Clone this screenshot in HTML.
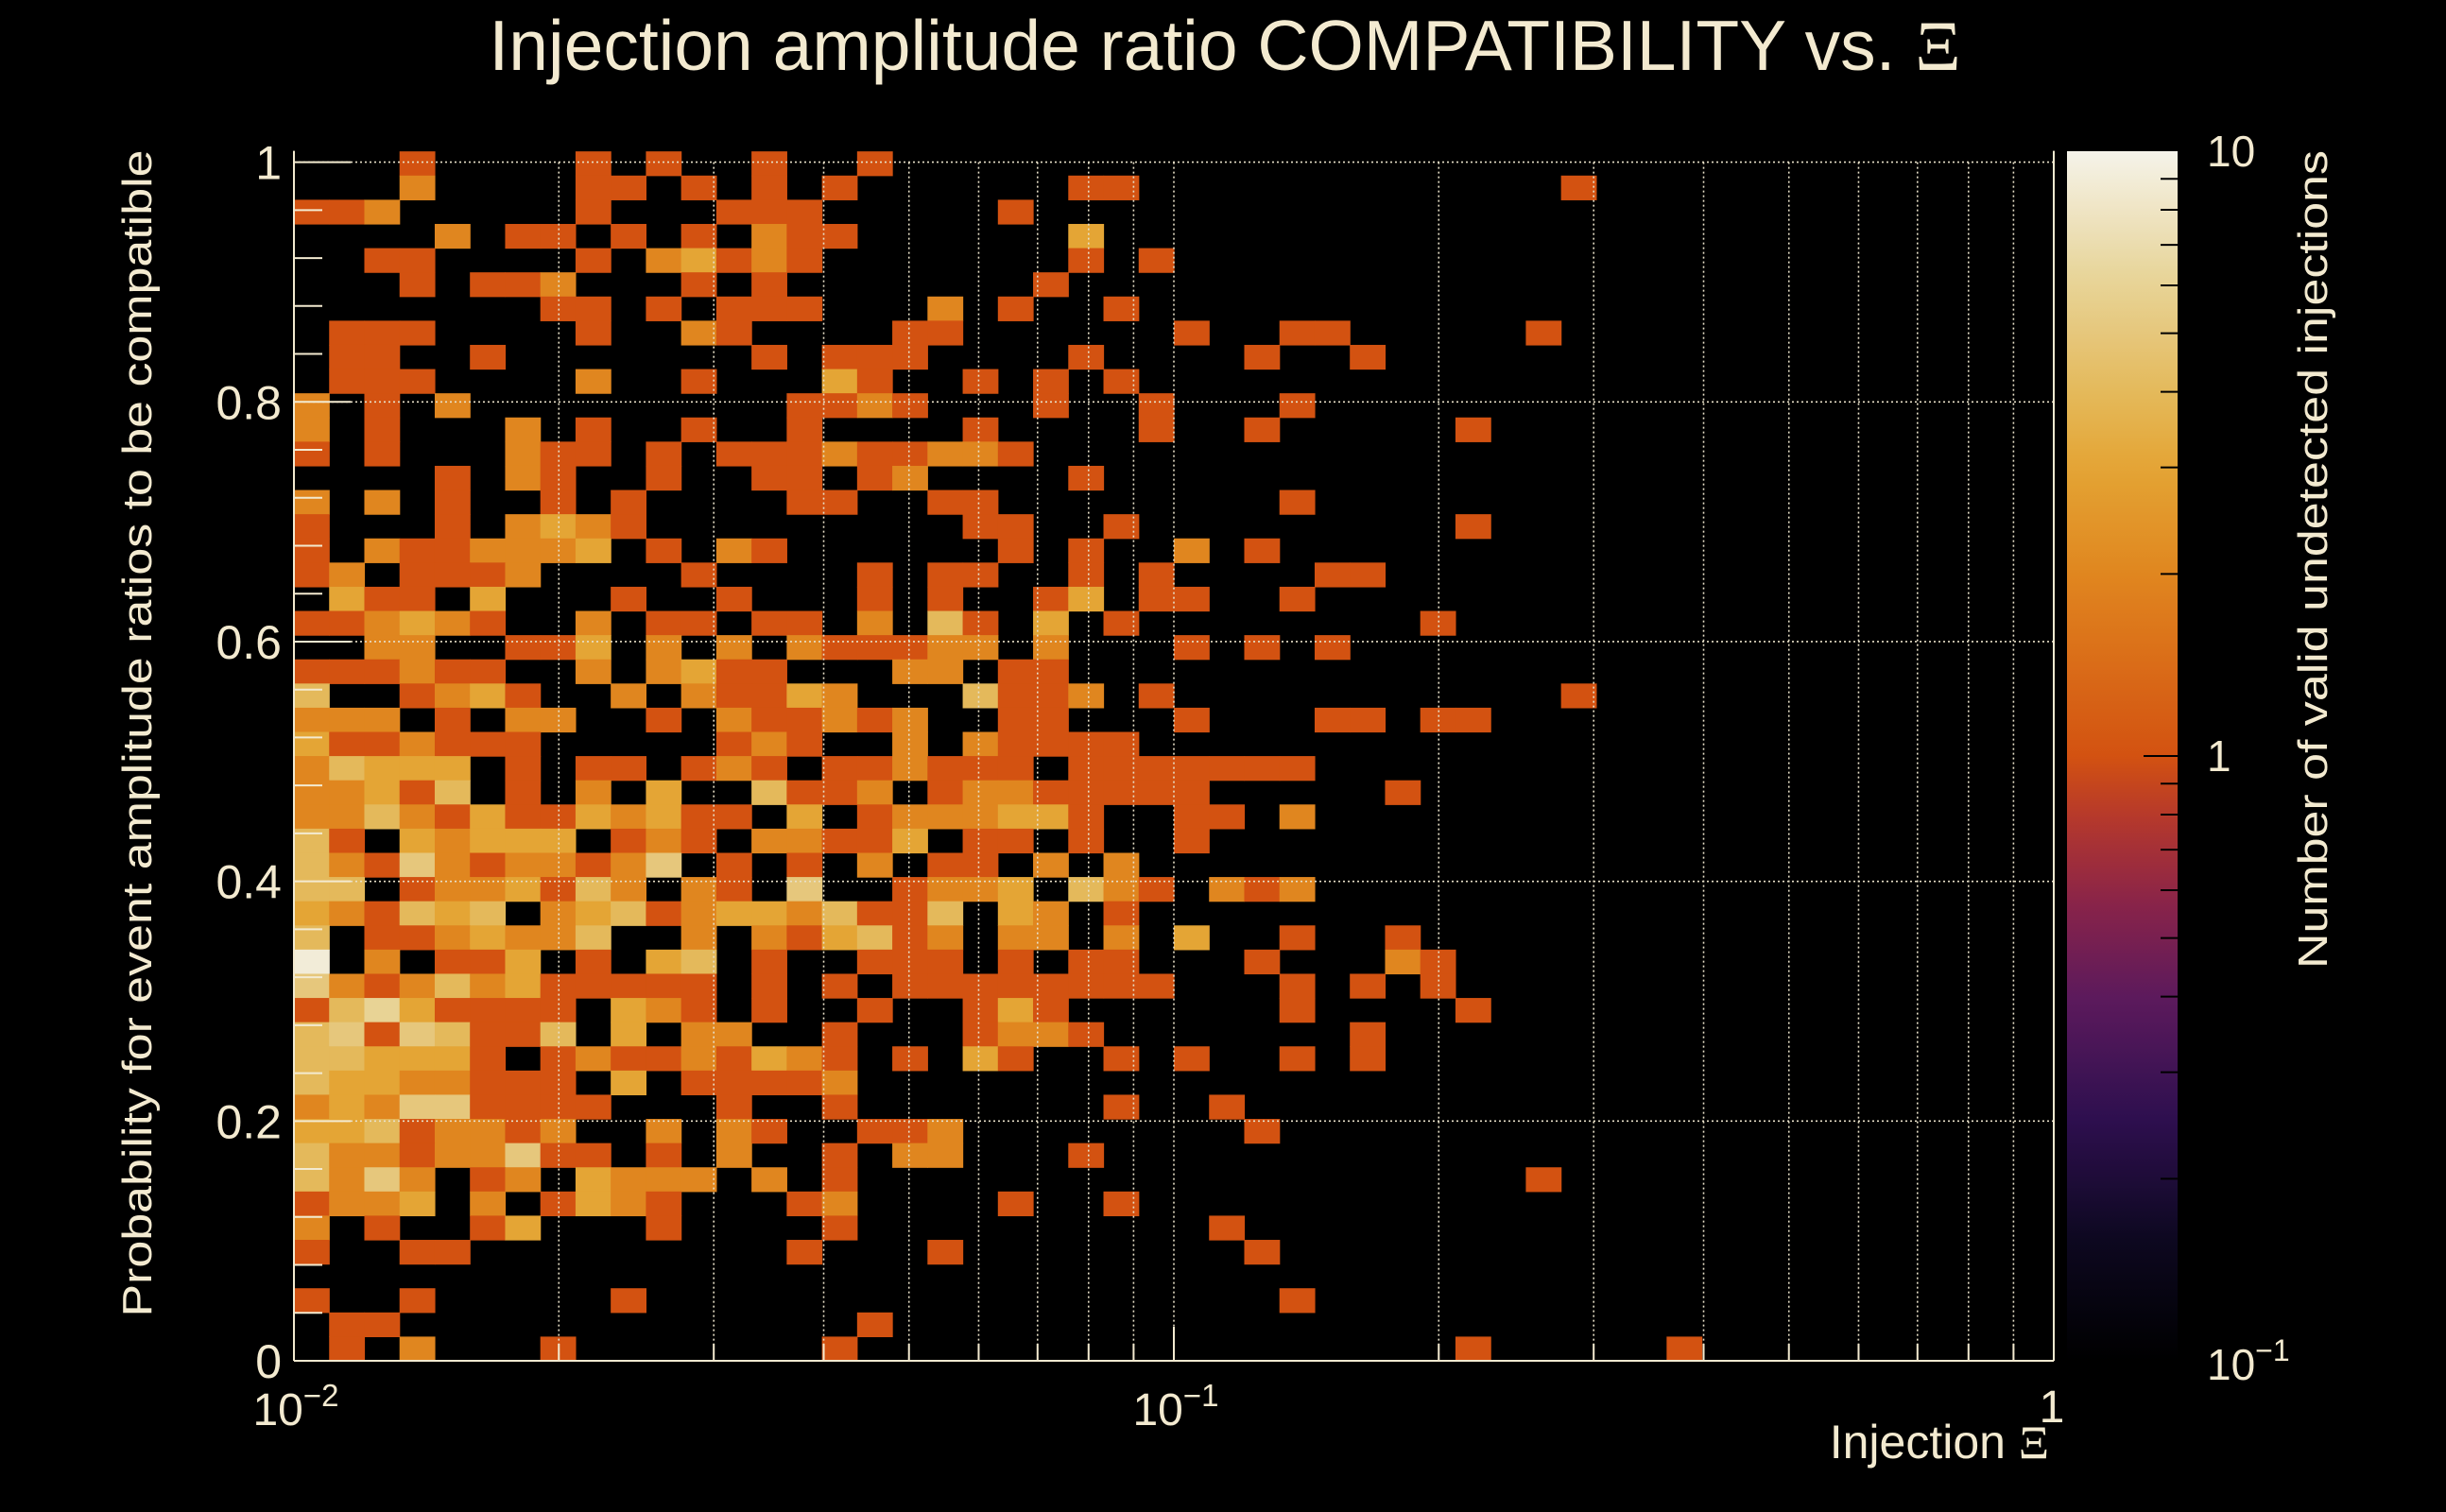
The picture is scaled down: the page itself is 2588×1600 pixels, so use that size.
<!DOCTYPE html>
<html><head><meta charset="utf-8"><style>
html,body{margin:0;padding:0;background:#000;}
svg{display:block;}
text{font-family:"Liberation Sans",sans-serif;fill:#f3ead0;}
</style></head>
<body>
<svg id="chart" width="2588" height="1600" viewBox="0 0 2588 1600" xmlns="http://www.w3.org/2000/svg">
<rect x="0" y="0" width="2588" height="1600" fill="#000"/>
<text x="1296" y="74" font-size="75" text-anchor="middle">Injection amplitude ratio COMPATIBILITY vs.  <tspan font-family="Liberation Serif, serif">Ξ</tspan></text>
<g id="cells"></g>
<g id="grid"></g>
<g id="axes"></g>
<defs><linearGradient id="cbgrad" x1="0" y1="1" x2="0" y2="0"></linearGradient></defs>
<g id="cbar"></g>
<text transform="translate(160,776) rotate(-90)" font-size="44" text-anchor="middle" textLength="1235" lengthAdjust="spacingAndGlyphs">Probability for event amplitude ratios to be compatible</text>
<text transform="translate(2462,592) rotate(-90)" font-size="44" text-anchor="middle" textLength="866" lengthAdjust="spacingAndGlyphs">Number of valid undetected injections</text>
<text x="2168" y="1543" font-size="50" text-anchor="end">Injection <tspan font-family="Liberation Serif, serif">Ξ</tspan></text>
</svg>
<script>
// Heatmap counts: rows from top (y bin 49) to bottom (y bin 0), 50 log-x columns each
const counts = [
"00010000101001001000000000000000000000000000000000",
"00020000110101010000001100000000000010000000000000",
"11200000100011100000100000000000000000000000000000",
"00002011010102110000003000000000000000000000000000",
"00110000102312100000001010000000000000000000000000",
"00010112000101000000010000000000000000000000000000",
"00000001101011100020100100000000000000000000000000",
"01110000100210000110000001001100000100000000000000",
"01100100000001011100001000010010000000000000000000",
"01110000200100031001010100000000000000000000000000",
"20102000000000112100010010001000000000000000000000",
"20100020100100100001000010010000010000000000000000",
"10100021101011121122100000000000000000000000000000",
"00001021001001101200001000000000000000000000000000",
"20201001010000110011000000001000000000000000000000",
"10001023210000000001100100000000010000000000000000",
"10211222301021000000101002010000000000000000000000",
"12011120000100001011001010000110000000000000000000",
"03110300010010001010013011001000000000000000000000",
"11232100201101102041030100000000100000000000000000",
"00220011302020211122020001010100000000000000000000",
"11121100202311000220110000000000000000000000000000",
"40012310020211320004112010000000000010000000000000",
"22201022001021121200110001000110110000000000000000",
"31121110000012100202111100000000000000000000000000",
"24333010110121011211101111111000000000000000000000",
"22314010203004112012211111000001000000000000000000",
"22421311323110301222331001102000000000000000000000",
"41032333012102211301101001000000000000000000000000",
"42152122125010102011020200000000000000000000000000",
"44012231420210500122304210212000000000000000000000",
"32143402341233241140320100000000000000000000000000",
"40112322400202134120220203001001000000000000000000",
"80201130103401001110101100010002100000000000000000",
"52124231111101010111111110001010100000000000000000",
"14631111032101001001310000001000010000000000000000",
"45154114030220010001221000000010000000000000000000",
"44333101211213210103100101001010000000000000000000",
"43322111030111120000000000000000000000000000000000",
"23255111100010010000000100100000000000000000000000",
"33412212002021001120000000010000000000000000000000",
"42212251101020010220001000000000000000000000000000",
"42520120322202010000000000000000000100000000000000",
"12230201321000120000100100000000000000000000000000",
"20100130001000010000000000100000000000000000000000",
"10011000000000100010000000010000000000000000000000",
"00000000000000000000000000000000000000000000000000",
"10010000010000000000000000001000000000000000000000",
"01100000000000001000000000000000000000000000000000",
"01020001000000010000000000000000010000010000000000"
];
const countValue = [0, 1, 2, 3, 4, 5, 6, 7, 9];
const xTickMajor = [0.01, 0.1, 1];
const xTickLabels = ["10", "10", "1"];
const xTickExp = ["\u22122", "\u22121", ""];
const yTickValues = [0, 0.2, 0.4, 0.6, 0.8, 1];
const yTickLabels = ["0", "0.2", "0.4", "0.6", "0.8", "1"];
const cbTickValues = [0.1, 1, 10];

const NS = "http://www.w3.org/2000/svg";
const X0 = 311, X1 = 2173, Y0 = 1440, YTOP = 171.6;
const NX = 50, NY = 50, YBIN = 0.02018;
function xPix(v){ return X0 + (Math.log10(v) + 2) / 2 * (X1 - X0); }
function yPix(v){ return Y0 - v * (Y0 - YTOP); }
const CB_TOP = 160, CB_BOT = 1440, CB_X = 2187, CB_W = 117;
function cbPix(v){ return CB_BOT - (Math.log10(v) + 1) / 2 * (CB_BOT - CB_TOP); }

const stops = [[0,"#000000"],[0.1,"#0d0820"],[0.2,"#2e0f4f"],[0.3,"#5c1a5c"],[0.38,"#8a2449"],[0.45,"#b6392b"],[0.5,"#d35211"],[0.65,"#e0861f"],[0.74,"#e4a535"],[0.8,"#e4b95a"],[0.85,"#e6c77c"],[0.9,"#e8d69c"],[1,"#f5f3ea"]];
function hex(h){ return [parseInt(h.substr(1,2),16),parseInt(h.substr(3,2),16),parseInt(h.substr(5,2),16)]; }
function colorFor(c){
  let t = (Math.log10(c) + 1) / 2; t = Math.max(0, Math.min(1, t));
  for (let i = 1; i < stops.length; i++){
    if (t <= stops[i][0]){
      const a = stops[i-1], b = stops[i], f = (t - a[0]) / (b[0] - a[0]);
      const ca = hex(a[1]), cb = hex(b[1]);
      return "rgb(" + ca.map((v,k)=>Math.round(v + (cb[k]-v)*f)).join(",") + ")";
    }
  }
  return stops[stops.length-1][1];
}

const cells = document.getElementById("cells");
for (let r = 0; r < NY; r++){
  const k = NY - 1 - r;
  const yb = yPix(k * YBIN), yt = yPix((k + 1) * YBIN);
  for (let c = 0; c < NX; c++){
    const cnt = countValue[+counts[r][c]];
    if (!cnt) continue;
    const xl = xPix(Math.pow(10, -2 + c * 0.04)), xr = xPix(Math.pow(10, -2 + (c + 1) * 0.04));
    const rect = document.createElementNS(NS, "rect");
    rect.setAttribute("x", xl.toFixed(2));
    rect.setAttribute("y", yt.toFixed(2));
    rect.setAttribute("width", (xr - xl + 0.6).toFixed(2));
    rect.setAttribute("height", (yb - yt + 0.6).toFixed(2));
    rect.setAttribute("fill", colorFor(cnt));
    
    
    cells.appendChild(rect);
  }
}

function line(parent, x1, y1, x2, y2, stroke, w, dash, name){
  const l = document.createElementNS(NS, "line");
  l.setAttribute("x1", x1); l.setAttribute("y1", y1);
  l.setAttribute("x2", x2); l.setAttribute("y2", y2);
  l.setAttribute("stroke", stroke); l.setAttribute("stroke-width", w);
  if (dash) l.setAttribute("stroke-dasharray", dash);
  
  
  parent.appendChild(l);
  return l;
}
function text(parent, x, y, s, size, anchor, name){
  const t = document.createElementNS(NS, "text");
  t.setAttribute("x", x); t.setAttribute("y", y);
  t.setAttribute("font-size", size); t.setAttribute("text-anchor", anchor);
  t.textContent = s;
  
  
  parent.appendChild(t);
  return t;
}

const grid = document.getElementById("grid");
const gcol = "#e8e0c8";
for (let d = -2; d < 0; d++){
  for (let m = 1; m <= 9; m++){
    if (d === -2 && m === 1) continue;
    const x = xPix(m * Math.pow(10, d));
    line(grid, x, YTOP, x, Y0, gcol, 1.6, "2 3", "x-grid-line");
  }
}
yTickValues.forEach(v => { if (v > 0) line(grid, X0, yPix(v), X1, yPix(v), gcol, 1.6, "2 3", "y-grid-line"); });

const axes = document.getElementById("axes");
line(axes, X0, Y0, X1, Y0, "#f3ead0", 2, null, "x-axis-line");
line(axes, X0, YTOP - 12, X0, Y0, "#f3ead0", 2, null, "y-axis-line");
line(axes, X1, YTOP - 12, X1, Y0, "#f3ead0", 2, null, "right-axis-line");
for (let i = 0; i <= 25; i++){
  const v = i * 0.04, major = (i % 5 === 0);
  line(axes, X0, yPix(v), X0 + (major ? 60 : 30), yPix(v), "#f3ead0", 2, null, "y-tick");
}
yTickValues.forEach((v, i) => text(axes, 298, yPix(v) + 18, yTickLabels[i], 50, "end", "y-tick-label"));
for (let d = -2; d < 0; d++){
  for (let m = 1; m <= 9; m++){
    const x = xPix(m * Math.pow(10, d));
    line(axes, x, Y0, x, Y0 - (m === 1 ? 36 : 18), "#f3ead0", 2, null, "x-tick");
  }
}
xTickMajor.forEach((v, i) => {
  const t = text(axes, xPix(v), 1508, xTickLabels[i], 48, "middle", "x-tick-label");
  if (xTickExp[i]){
    const ts = document.createElementNS(NS, "tspan");
    ts.setAttribute("dy", "-20"); ts.setAttribute("font-size", "33");
    ts.textContent = xTickExp[i];
    t.appendChild(ts);
    t.setAttribute("x", xPix(v) + 2);
  } else {
    t.setAttribute("x", xPix(v) - 2);
    t.setAttribute("y", 1505);
  }
});

const grad = document.getElementById("cbgrad");
for (let i = 0; i <= 40; i++){
  const t = i / 40;
  const st = document.createElementNS(NS, "stop");
  st.setAttribute("offset", t);
  st.setAttribute("stop-color", colorFor(Math.pow(10, t * 2 - 1)));
  grad.appendChild(st);
}
const cbar = document.getElementById("cbar");
const cr = document.createElementNS(NS, "rect");
cr.setAttribute("x", CB_X); cr.setAttribute("y", CB_TOP);
cr.setAttribute("width", CB_W); cr.setAttribute("height", CB_BOT - CB_TOP);
cr.setAttribute("fill", "url(#cbgrad)");


cbar.appendChild(cr);
for (let d = -1; d < 1; d++){
  for (let m = 1; m <= 9; m++){
    const y = cbPix(m * Math.pow(10, d));
    line(cbar, CB_X + CB_W - (m === 1 ? 36 : 18), y, CB_X + CB_W, y, "#000", 2, null, "colorbar-tick");
  }
}
cbTickValues.forEach(v => {
  const y = cbPix(v);
  if (v === 10) text(cbar, 2335, y + 16, "10", 46, "start", "colorbar-tick-label");
  else if (v === 1) text(cbar, 2335, y + 16, "1", 46, "start", "colorbar-tick-label");
  else {
    const t = text(cbar, 2335, y + 20, "10", 46, "start", "colorbar-tick-label");
    const ts = document.createElementNS(NS, "tspan");
    ts.setAttribute("dy", "-20"); ts.setAttribute("font-size", "32");
    ts.textContent = "\u22121";
    t.appendChild(ts);
  }
});
</script>
</body></html>
